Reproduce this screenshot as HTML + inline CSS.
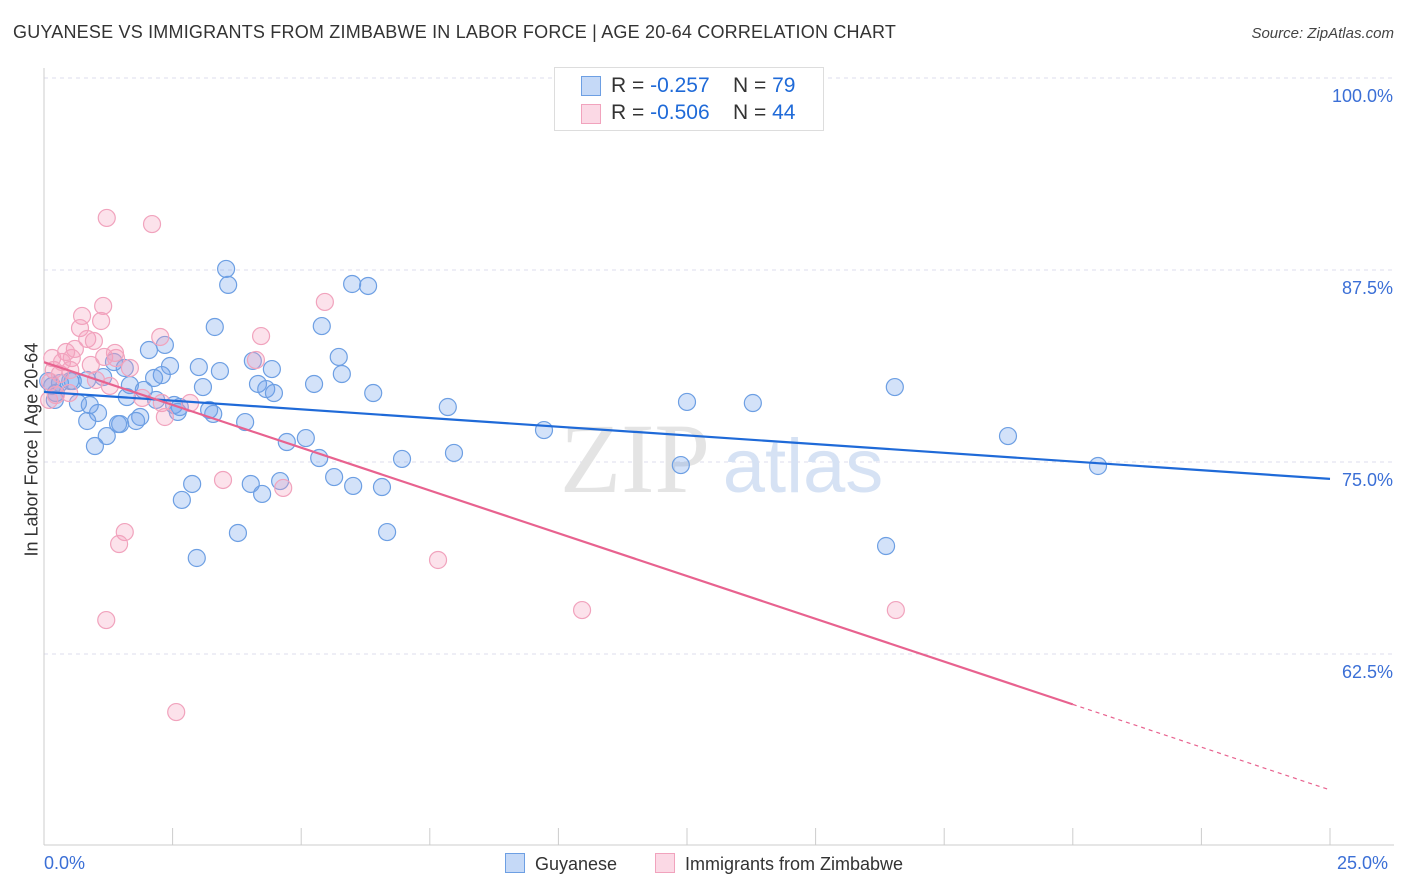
<!DOCTYPE html>
<html><head><meta charset="utf-8">
<style>
body{margin:0;background:#fff;font-family:"Liberation Sans",sans-serif;}
#wrap{position:relative;width:1406px;height:892px;overflow:hidden;}
.t{position:absolute;white-space:nowrap;}
</style></head>
<body>
<div id="wrap">
<div class="t" style="left:13px;top:22px;font-size:18px;color:#333;letter-spacing:0.2px;">GUYANESE VS IMMIGRANTS FROM ZIMBABWE IN LABOR FORCE | AGE 20-64 CORRELATION CHART</div>
<div class="t" style="right:12px;top:25px;font-size:15px;color:#444;font-style:italic;">Source: ZipAtlas.com</div>
<svg id="svg" width="1406" height="892" style="position:absolute;left:0;top:0"></svg>
</div>
<script>
const blueX=[3.54,3.58,5.99,6.30,3.32,5.40,2.35,2.04,1.36,1.57,2.45,2.29,3.01,3.42,4.06,4.43,5.73,5.79,1.67,1.94,2.14,3.09,4.16,4.32,4.47,5.25,6.40,7.85,12.50,13.78,16.54,18.74,20.49,9.72,12.38,16.37,7.97,6.96,5.35,5.09,4.72,3.91,3.29,3.21,2.64,2.53,2.60,2.18,1.87,1.79,1.48,1.22,0.99,1.05,0.84,0.89,0.66,0.21,0.23,0.31,0.51,0.56,1.15,0.16,0.08,2.88,2.68,4.02,4.24,4.59,5.64,6.01,6.57,6.67,3.77,2.97,1.44,1.61,0.84];
const blueY=[87.57,86.53,86.59,86.46,83.79,83.85,82.62,82.29,81.51,81.12,81.25,80.66,81.18,80.92,81.58,81.05,81.84,80.73,80.01,79.69,80.47,79.88,80.08,79.75,79.49,80.08,79.49,78.58,78.91,78.84,79.88,76.69,74.74,77.08,74.80,69.53,75.59,75.20,75.26,76.56,76.30,77.60,78.13,78.39,78.58,78.71,78.26,79.04,77.93,77.67,77.47,76.69,76.04,78.19,77.67,78.71,78.84,79.04,79.49,80.14,80.27,80.27,80.53,79.95,80.27,73.57,72.53,73.57,72.92,73.76,74.02,73.44,73.37,70.44,70.38,68.75,77.47,79.23,80.34];
const pinkX=[1.22,2.10,5.46,1.15,0.74,0.70,1.11,0.84,0.97,2.26,4.22,0.60,0.54,0.43,0.16,0.19,1.17,1.40,1.67,0.91,1.38,1.01,0.31,0.12,0.10,0.23,0.49,1.91,2.29,2.35,3.48,4.65,1.57,1.46,1.21,2.57,7.66,10.46,16.56,0.51,0.35,1.28,2.84,4.12];
const pinkY=[90.89,90.49,85.42,85.16,84.51,83.72,84.18,83.01,82.88,83.14,83.20,82.36,81.77,82.16,81.77,80.99,81.84,81.77,81.12,81.32,82.10,80.34,80.73,80.21,79.04,79.36,79.49,79.17,78.84,77.93,73.83,73.31,70.44,69.66,64.71,58.72,68.62,65.36,65.36,80.99,81.51,79.95,78.84,81.64];
const blueLine=[79.56,73.9];
const pinkLine=[81.5,53.65];
const pinkSolidEnd=20.0;
const yTicks=[100,87.5,75,62.5];
const yTickLabels=["100.0%","87.5%","75.0%","62.5%"];

const NS="http://www.w3.org/2000/svg";
const svg=document.getElementById('svg');
const X=v=>44+v/25*1286;
const Y=v=>78+(100-v)/12.5*192;
function mk(tag,attrs){const e=document.createElementNS(NS,tag);for(const k in attrs)e.setAttribute(k,attrs[k]);svg.appendChild(e);return e;}

yTicks.forEach((t,i)=>{
  const g=mk('line',{x1:44,x2:1394,y1:Y(t),y2:Y(t),stroke:'#dde',"stroke-dasharray":'4,4'});
  
  
  const tx=mk('text',{x:1393,y:Y(t)+24,"text-anchor":'end',"font-size":18,fill:'#3b6fd6',"font-family":'Liberation Sans'});
  tx.textContent=yTickLabels[i];
  
  
});
const ax=mk('line',{x1:44,x2:1394,y1:845,y2:845,stroke:'#ccc'});


const ay=mk('line',{x1:44,x2:44,y1:68,y2:845,stroke:'#ccc'});


for(let i=0;i<=10;i++){
  const tk=mk('line',{x1:X(i*2.5),x2:X(i*2.5),y1:828,y2:845,stroke:'#ccc'});
  
  
}
const wm1=mk('text',{x:635,y:492,"text-anchor":'middle',"font-size":100,fill:'#e4e4e4',"font-family":'Liberation Serif'});
wm1.textContent='ZIP';


const wm2=mk('text',{x:803,y:492,"text-anchor":'middle',"font-size":76,fill:'#d6e2f4',"font-family":'Liberation Sans'});
wm2.textContent='atlas';



blueX.forEach((v,i)=>{
  const c=mk('circle',{cx:X(v),cy:Y(blueY[i]),r:8.5,fill:'rgba(110,160,235,0.3)',stroke:'#6d9fe3',"stroke-width":1.2});
  
  
});
pinkX.forEach((v,i)=>{
  const c=mk('circle',{cx:X(v),cy:Y(pinkY[i]),r:8.5,fill:'rgba(245,160,190,0.3)',stroke:'#f1a3bd',"stroke-width":1.2});
  
  
});
const bl=mk('line',{x1:X(0),y1:Y(blueLine[0]),x2:X(25),y2:Y(blueLine[1]),stroke:'#1f6ad8',"stroke-width":2.2});


const py=v=>pinkLine[0]+(pinkLine[1]-pinkLine[0])*v/25;
const pl=mk('line',{x1:X(0),y1:Y(pinkLine[0]),x2:X(pinkSolidEnd),y2:Y(py(pinkSolidEnd)),stroke:'#e8628f',"stroke-width":2.2});


const pd=mk('line',{x1:X(pinkSolidEnd),y1:Y(py(pinkSolidEnd)),x2:X(25),y2:Y(pinkLine[1]),stroke:'#e8628f',"stroke-width":1.2,"stroke-dasharray":'4,4'});


</script>
<div class="t" style="left:44px;top:853px;font-size:18px;color:#3b6fd6;">0.0%</div>
<div class="t" style="left:1337px;top:853px;font-size:18px;color:#3b6fd6;">25.0%</div>
<div class="t" style="left:-68px;top:446px;font-size:18px;color:#333;transform:rotate(-90deg);width:200px;text-align:center;">In Labor Force | Age 20-64</div>
<div style="position:absolute;left:554px;top:67px;width:268px;height:62px;border:1px solid #ddd;background:#fff;font-size:21px;">
  <div style="position:absolute;left:26px;top:8px;width:18px;height:18px;background:rgba(110,160,235,0.4);border:1px solid #6d9fe3;"></div>
  <div class="t" style="left:56px;top:6px;color:#333;">R = <span style="color:#1f6ad8">-0.257</span>&nbsp;&nbsp;&nbsp; N = <span style="color:#1f6ad8">79</span></div>
  <div style="position:absolute;left:26px;top:36px;width:18px;height:18px;background:rgba(245,160,190,0.4);border:1px solid #f1a3bd;"></div>
  <div class="t" style="left:56px;top:33px;color:#333;">R = <span style="color:#1f6ad8">-0.506</span>&nbsp;&nbsp;&nbsp; N = <span style="color:#1f6ad8">44</span></div>
</div>
<div style="position:absolute;left:505px;top:853px;font-size:18px;color:#333;">
  <span style="display:inline-block;width:18px;height:18px;background:rgba(110,160,235,0.4);border:1px solid #6d9fe3;vertical-align:-3px;margin-right:10px;"></span>Guyanese</div>
<div style="position:absolute;left:655px;top:853px;font-size:18px;color:#333;">
  <span style="display:inline-block;width:18px;height:18px;background:rgba(245,160,190,0.4);border:1px solid #f1a3bd;vertical-align:-3px;margin-right:10px;"></span>Immigrants from Zimbabwe</div>
</body></html>
